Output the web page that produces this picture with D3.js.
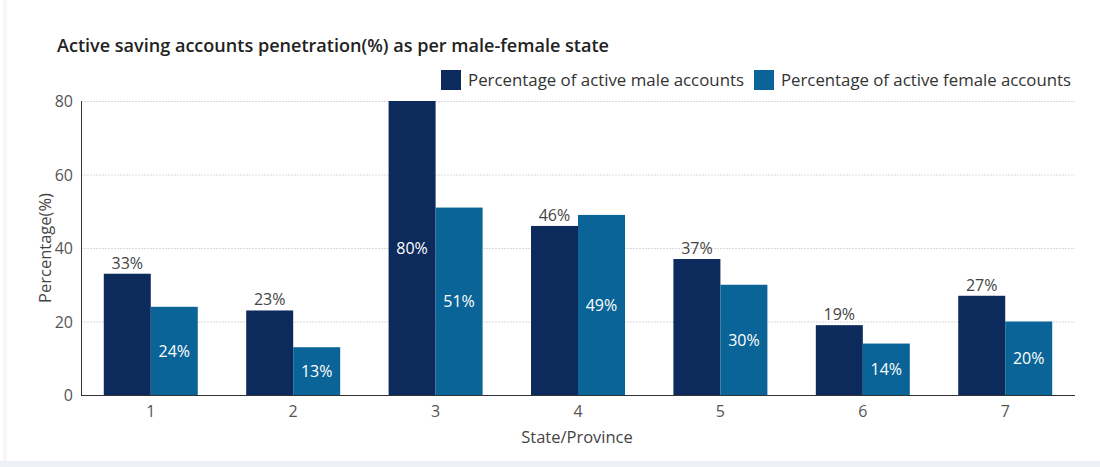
<!DOCTYPE html>
<html>
<head>
<meta charset="utf-8">
<script src="https://cdn.jsdelivr.net/npm/d3@7"></script>
<style>
  html, body { margin: 0; padding: 0; background: #ffffff; }
  svg { display: block; }
  text { font-family: "Open Sans", "Noto Sans", sans-serif; }
</style>
</head>
<body>
<svg id="chart" width="1100" height="467"></svg>
<script>
const categories = ["1", "2", "3", "4", "5", "6", "7"];
const seriesNames = ["Percentage of active male accounts", "Percentage of active female accounts"];
const maleValues = [33, 23, 80, 46, 37, 19, 27];
const femaleValues = [24, 13, 51, 49, 30, 14, 20];
const yTicks = [0, 20, 40, 60, 80];
const colors = ["#0c2a5c", "#0a6497"];

const svg = d3.select("#chart");
const W = 1100, H = 467;
const m = { left: 81, right: 25, top: 101, bottom: 72 };
const x0 = m.left, x1 = W - m.right, yTop = m.top, yBot = H - m.bottom;

// background frame
svg.append("rect").attr("x", 0).attr("y", 0).attr("width", W).attr("height", H).attr("fill", "#ffffff");
svg.append("rect").attr("x", 0).attr("y", 461).attr("width", W).attr("height", 6).attr("fill", "#edf1f6");
svg.append("rect").attr("x", 3).attr("y", 0).attr("width", 4).attr("height", 461).attr("fill", "#f6f6f6");

const x = d3.scaleBand().domain(categories).range([x0, x1]).paddingInner(0.34).paddingOuter(0.16);
const xs = d3.scaleBand().domain([0, 1]).range([0, x.bandwidth()]);
const y = d3.scaleLinear().domain([0, 80]).range([yBot, yTop]);

// gridlines
svg.append("g").selectAll("line").data(yTicks.filter(d => d > 0)).join("line")
  .attr("x1", x0).attr("x2", x1)
  .attr("y1", d => y(d) + 0.5).attr("y2", d => y(d) + 0.5)
  .attr("stroke", "#d9d9d9").attr("stroke-width", 1).attr("stroke-dasharray", "2,1");

// title
svg.append("text").attr("x", 57).attr("y", 52)
  .attr("font-size", 18).attr("font-weight", 600).attr("fill", "#222")
  .attr("textLength", 552).attr("lengthAdjust", "spacingAndGlyphs")
  .text("Active saving accounts penetration(%) as per male-female state");

// legend
const legend = svg.append("g");
const legX = [441, 754];
const legLen = [276, 290];
seriesNames.forEach((s, i) => {
  legend.append("rect").attr("x", legX[i]).attr("y", 70).attr("width", 20).attr("height", 20).attr("fill", colors[i]);
  legend.append("text").attr("x", legX[i] + 27).attr("y", 86).attr("font-size", 16.5).attr("fill", "#333")
    .attr("textLength", legLen[i]).attr("lengthAdjust", "spacingAndGlyphs").text(s);
});

// bars
const series = [maleValues, femaleValues];
const groups = svg.append("g").selectAll("g").data(categories).join("g")
  .attr("transform", d => `translate(${x(d)},0)`);

groups.each(function(c, ci) {
  const g = d3.select(this);
  series.forEach((vals, si) => {
    const v = vals[ci];
    g.append("rect")
      .attr("x", xs(si)).attr("width", xs.bandwidth())
      .attr("y", y(v)).attr("height", y(0) - y(v))
      .attr("fill", colors[si]);
    const inside = si === 1 || v >= 75;
    g.append("text")
      .attr("x", xs(si) + xs.bandwidth() / 2)
      .attr("y", inside ? (y(v) + y(0)) / 2 + 6 : y(v) - 5)
      .attr("text-anchor", "middle")
      .attr("font-size", 16)
      .attr("fill", inside ? "#ffffff" : "#444")
      .text(v + "%");
  });
});

// axes
const yAxis = svg.append("g");
yAxis.append("line").attr("x1", x0 + 0.5).attr("x2", x0 + 0.5).attr("y1", yTop).attr("y2", yBot).attr("stroke", "#333");
yAxis.selectAll("text").data(yTicks).join("text")
  .attr("x", x0 - 8).attr("y", d => y(d) + 6)
  .attr("text-anchor", "end").attr("font-size", 16).attr("fill", "#555")
  .text(d => d);

const xAxis = svg.append("g").attr("transform", `translate(0,${yBot})`)
  .call(d3.axisBottom(x).tickSize(0).tickPadding(11));
xAxis.select(".domain").attr("stroke", "#333").attr("d", `M${x0},0.5H${x1}`);
xAxis.selectAll("text").attr("font-size", 16).attr("fill", "#555").attr("font-family", "Open Sans, sans-serif");

svg.append("text").attr("x", 577).attr("y", 443)
  .attr("text-anchor", "middle").attr("font-size", 16.5).attr("fill", "#444")
  .text("State/Province");

svg.append("text")
  .attr("transform", `translate(51,${(yTop + yBot) / 2}) rotate(-90)`)
  .attr("text-anchor", "middle").attr("font-size", 16.5).attr("fill", "#444")
  .text("Percentage(%)");
</script>
</body>
</html>
